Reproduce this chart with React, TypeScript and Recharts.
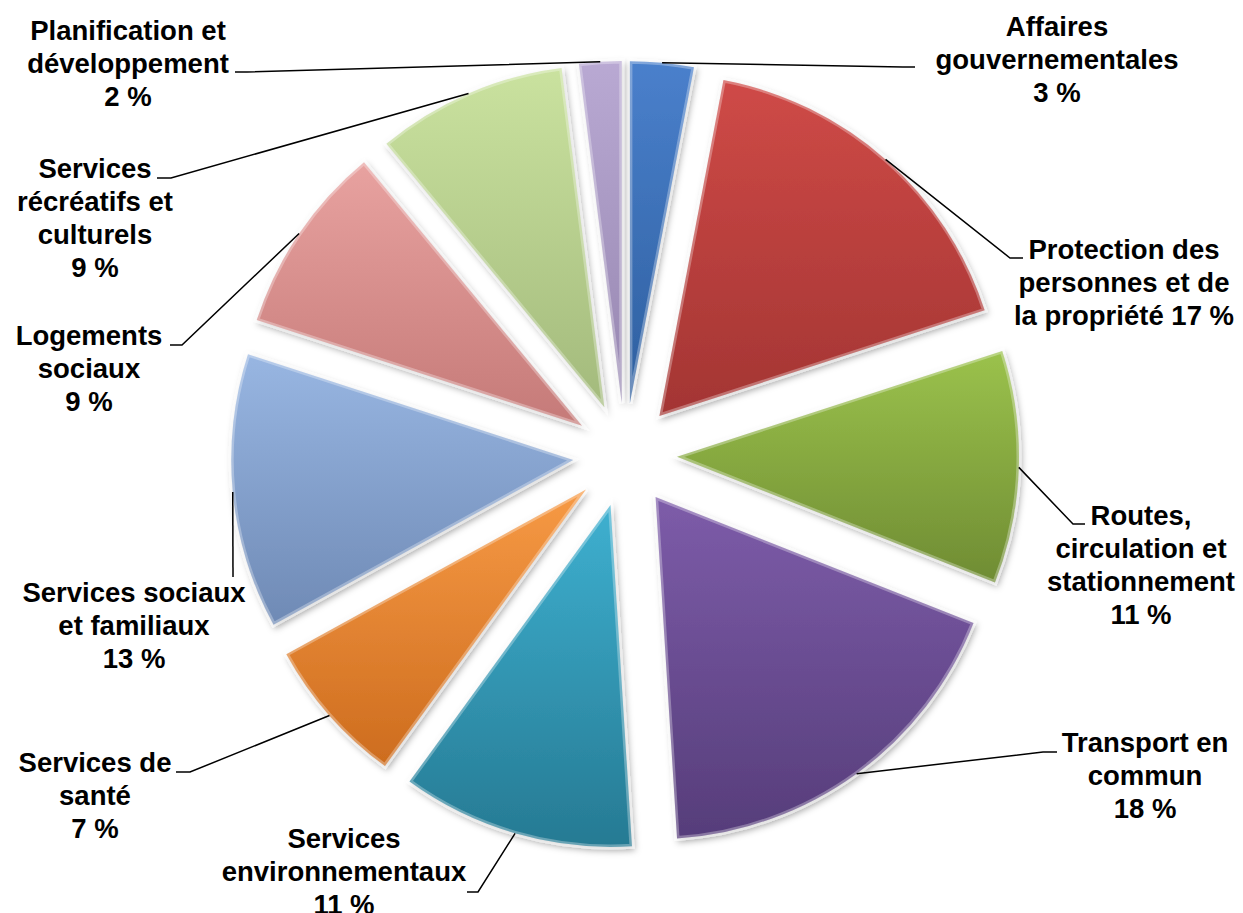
import React from 'react'
import { Cell, Pie, PieChart, Sector } from 'recharts'

// Category names, with the line breaks used by the data labels
const CATEGORIES = [
  'Affaires\ngouvernementales',
  'Protection des\npersonnes et de\nla propriété',
  'Routes,\ncirculation et\nstationnement',
  'Transport en\ncommun',
  'Services\nenvironnementaux',
  'Services de\nsanté',
  'Services sociaux\net familiaux',
  'Logements\nsociaux',
  'Services\nrécréatifs et\nculturels',
  'Planification et\ndéveloppement',
]

// Share of the budget, in %
const SHARES = [3, 17, 11, 18, 11, 7, 13, 9, 9, 2]

// Slice gradient, light (top) to dark (bottom)
const TOP_COLORS = [
  '#4a80cc', '#cf4a47', '#9bc24c', '#7d5ca9', '#3eb0d0',
  '#f79a45', '#98b6e2', '#e8a2a0', '#cae29f', '#b9a9d3',
]
const BOTTOM_COLORS = [
  '#2e5f9f', '#a33533', '#6f8c33', '#563d7a', '#267a93',
  '#cd6c1e', '#6f8ab5', '#c57a78', '#a3ba7c', '#9686b0',
]

// Where each label sits, as offsets from the pie centre:
// tx/ty = text centre and first baseline, ex/ey = leader end, bx = elbow x
const LABEL_LAYOUT = [
  { tx: 432, ty: -419, ex: 290, ey: -388, bx: 278, inline: false },
  { tx: 499, ty: -196, ex: 398, ey: -197, bx: 385, inline: true },
  { tx: 516, ty: 70, ex: 460, ey: 69, bx: 448, inline: false },
  { tx: 520, ty: 297, ex: 432, ey: 297, bx: 418, inline: false },
  { tx: -281, ty: 393, ex: -158, ey: 437, bx: -147, inline: false },
  { tx: -530, ty: 317, ex: -449, ey: 317, bx: -435, inline: false },
  { tx: -491, ty: 147, ex: -392, ey: 122, bx: -392, inline: false },
  { tx: -536, ty: -110, ex: -455, ey: -110, bx: -443, inline: false },
  { tx: -530, ty: -277, ex: -468, ey: -277, bx: -454, inline: false },
  { tx: -497, ty: -415, ex: -390, ey: -383, bx: -378, inline: false },
]

const WIDTH = 1243
const HEIGHT = 913
const RAD = Math.PI / 180
const EXPLODE = 52
const LINE_H = 33
const FONT = '"Liberation Sans", Arial, sans-serif'

const data = CATEGORIES.map((name, i) => ({ name, value: SHARES[i] }))

// Each slice pushed out along its mid angle, Excel "exploded pie" style
function ExplodedSlice(props: any) {
  const { cx, cy, innerRadius, outerRadius, startAngle, endAngle, midAngle } = props
  const i = CATEGORIES.indexOf(props.name ?? props.payload?.name)
  const dx = EXPLODE * Math.cos(-midAngle * RAD)
  const dy = EXPLODE * Math.sin(-midAngle * RAD)
  const geo = {
    cx: cx + dx,
    cy: cy + dy,
    innerRadius,
    outerRadius,
    startAngle,
    endAngle,
  }
  return (
    <g filter="url(#sliceShadow)">
      <Sector {...geo} fill={`url(#sliceFill${i})`} stroke="none" />
      <Sector {...geo} fill="none" stroke="rgba(255,255,255,0.3)" strokeWidth={5} />
    </g>
  )
}

function renderLabel(props: any) {
  const { cx, cy, midAngle, outerRadius, index } = props
  const L = LABEL_LAYOUT[index]
  const r = outerRadius + EXPLODE
  const sx = cx + r * Math.cos(-midAngle * RAD)
  const sy = cy + r * Math.sin(-midAngle * RAD)
  const lines = CATEGORIES[index].split('\n')
  const pct = `${SHARES[index]} %`
  if (L.inline) lines[lines.length - 1] += ' ' + pct
  else lines.push(pct)
  const x = cx + L.tx
  return (
    <g key={`label-${index}`}>
      <polyline
        points={`${sx},${sy} ${cx + L.bx},${cy + L.ey} ${cx + L.ex},${cy + L.ey}`}
        fill="none"
        stroke="#000"
        strokeWidth={1.5}
      />
      <text
        x={x}
        y={cy + L.ty}
        textAnchor="middle"
        fill="#000"
        stroke="none"
        fontFamily={FONT}
        fontWeight={700}
        fontSize={27.5}
      >
        {lines.map((ln, k) => (
          <tspan key={k} x={x} dy={k === 0 ? 0 : LINE_H}>
            {ln}
          </tspan>
        ))}
      </text>
    </g>
  )
}

export default function App() {
  return (
    <div style={{ position: 'absolute', left: 0, top: 0, background: '#fff' }}>
      <PieChart width={WIDTH} height={HEIGHT} margin={{ top: 0, right: 0, bottom: 0, left: 0 }}>
        <defs>
          {TOP_COLORS.map((c, i) => (
            <linearGradient key={i} id={`sliceFill${i}`} x1="0" y1="0" x2="0" y2="1">
              <stop offset="0%" stopColor={c} />
              <stop offset="100%" stopColor={BOTTOM_COLORS[i]} />
            </linearGradient>
          ))}
          <filter id="sliceShadow" x="-15%" y="-15%" width="140%" height="140%">
            <feDropShadow dx="2" dy="3" stdDeviation="3" floodColor="#000" floodOpacity="0.35" />
          </filter>
        </defs>
        <Pie
          data={data}
          dataKey="value"
          nameKey="name"
          cx={625}
          cy={455}
          innerRadius={0}
          outerRadius={342}
          startAngle={90}
          endAngle={-270}
          stroke="none"
          shape={ExplodedSlice}
          label={renderLabel}
          labelLine={false}
          isAnimationActive={false}
        >
          {data.map((d, i) => (
            <Cell key={d.name} fill={`url(#sliceFill${i})`} />
          ))}
        </Pie>
      </PieChart>
    </div>
  )
}
